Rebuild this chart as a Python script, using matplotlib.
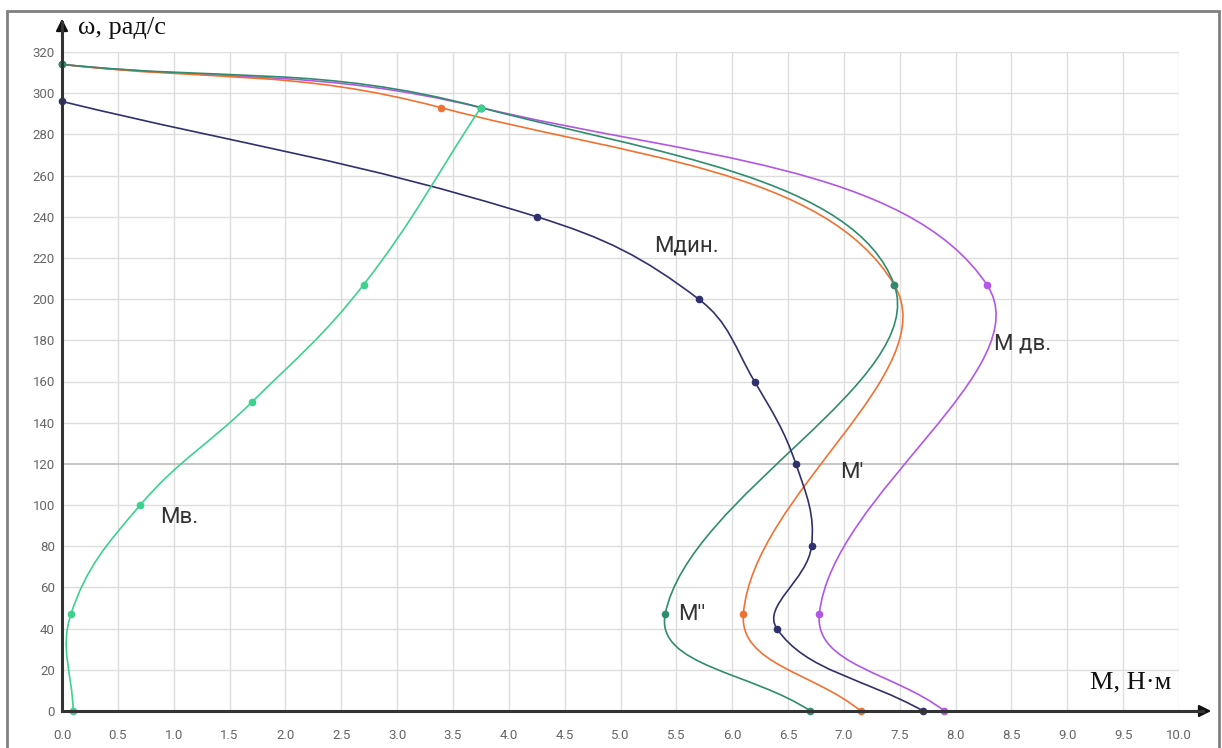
import numpy as np
import matplotlib.pyplot as plt
from matplotlib.path import Path
from matplotlib.patches import PathPatch, Rectangle

# точки кривых (M, Н·м ; ω, рад/с)
mv_m = [0.10, 0.08, 0.70, 1.70, 2.70, 3.75]
mv_w = [0, 47, 100, 150, 207, 293]

mdin_m = [0.0, 4.25, 5.70, 6.20, 6.57, 6.71, 6.40, 7.71]
mdin_w = [296, 240, 200, 160, 120, 80, 40, 0]

m1_m = [0.0, 3.39, 7.45, 6.10, 7.15]
m1_w = [314, 293, 207, 47, 0]

m2_m = [0.0, 3.75, 7.45, 5.40, 6.70]
m2_w = [314, 293, 207, 47, 0]

mdv_m = [0.0, 3.75, 8.28, 6.78, 7.90]
mdv_w = [314, 293, 207, 47, 0]

x_ticks = np.arange(0, 10.01, 0.5)
y_ticks = np.arange(0, 321, 20)

W, H = 1222, 748
fig = plt.figure(figsize=(W / 100, H / 100), dpi=100)
ax = fig.add_axes([62 / W, 1 - 711 / H, 1117 / W, 659 / H])
ax.set_xlim(0, 10)
ax.set_ylim(0, 320)


def spline_path(xs, ys, t=0.4):
    # сглаженная кривая через точки (кубические Безье в пикселях)
    pts = ax.transData.transform(np.column_stack([xs, ys]))
    n = len(pts)
    cp_prev, cp_next = [], []
    for i in range(n):
        prev = pts[max(i - 1, 0)]
        cur = pts[i]
        nxt = pts[min(i + 1, n - 1)]
        d01 = np.hypot(*(cur - prev))
        d12 = np.hypot(*(nxt - cur))
        tot = d01 + d12
        s01 = d01 / tot if tot else 0
        s12 = d12 / tot if tot else 0
        cp_prev.append(cur - t * s01 * (nxt - prev))
        cp_next.append(cur + t * s12 * (nxt - prev))
    verts = [pts[0]]
    codes = [Path.MOVETO]
    for i in range(n - 1):
        verts += [cp_next[i], cp_prev[i + 1], pts[i + 1]]
        codes += [Path.CURVE4] * 3
    verts = ax.transData.inverted().transform(np.array(verts))
    return Path(verts, codes)


# сетка
for v in x_ticks:
    ax.axvline(v, color='#dddddd', lw=1, zorder=0)
for v in y_ticks:
    ax.axhline(v, color='#bbbbbb' if v == 120 else '#dddddd', lw=1.2 if v == 120 else 1, zorder=0)

series = [
    (mdv_m, mdv_w, '#b356e6'),
    (m1_m, m1_w, '#f07232'),
    (m2_m, m2_w, '#2f8c6e'),
    (mdin_m, mdin_w, '#30306e'),
    (mv_m, mv_w, '#3dd18e'),
]
for k, (xs, ys, c) in enumerate(series):
    ax.add_patch(PathPatch(spline_path(xs, ys), facecolor='none', edgecolor=c,
                           lw=1.2, clip_on=False, zorder=3 + k))
    ax.plot(xs, ys, 'o', ms=4.5, color=c, clip_on=False, zorder=10 + k)

for s in ax.spines.values():
    s.set_visible(False)
ax.set_xticks(x_ticks)
ax.set_xticklabels([f"{v:.1f}" for v in x_ticks])
ax.set_yticks(y_ticks)
ax.set_yticklabels([str(v) for v in y_ticks])
ax.tick_params(axis='both', length=0, labelsize=9.5, labelcolor='#666666')
ax.tick_params(axis='x', pad=13)
ax.tick_params(axis='y', pad=5)
for lab in ax.get_xticklabels() + ax.get_yticklabels():
    lab.set_family('Roboto')

# оси со стрелками
fig.add_artist(plt.Line2D([62 / W, 62 / W], [1 - 711 / H, 1 - 22 / H], color='#333333', lw=2.2))
fig.add_artist(plt.Line2D([62 / W, 1203 / W], [1 - 711 / H, 1 - 711 / H], color='#333333', lw=2.2))
ax.annotate('', xy=(62 / W, 1 - 16 / H), xytext=(62 / W, 1 - 40 / H), xycoords='figure fraction',
            arrowprops=dict(arrowstyle='-|>', color='#111111', lw=1.5, mutation_scale=18))
ax.annotate('', xy=(1214 / W, 1 - 711 / H), xytext=(1190 / W, 1 - 711 / H), xycoords='figure fraction',
            arrowprops=dict(arrowstyle='-|>', color='#111111', lw=1.5, mutation_scale=18))

# рамка
fig.add_artist(Rectangle((7 / W, -0.01), (1219 - 7) / W, 1 - 11 / H + 0.01, transform=fig.transFigure,
                         fill=False, edgecolor='#808080', lw=2))

# подписи
fig.text(78 / W, 1 - 28 / H, 'ω, рад/с', family='Liberation Serif', fontsize=19, va='center', color='#111111')
fig.text(1090 / W, 1 - 682 / H, 'М, Н·м', family='Liberation Serif', fontsize=19, va='center', color='#111111')

lab_kw = dict(family='Roboto', fontsize=16, color='#333333', va='center')
ax.text(0.88, 94, 'Мв.', **lab_kw)
ax.text(5.30, 226, 'Мдин.', **lab_kw)
ax.text(6.97, 116, "М'", **lab_kw)
ax.text(5.52, 47, "М''", **lab_kw)
ax.text(8.34, 178, 'М дв.', **lab_kw)

fig.savefig('out.png', dpi=100)
